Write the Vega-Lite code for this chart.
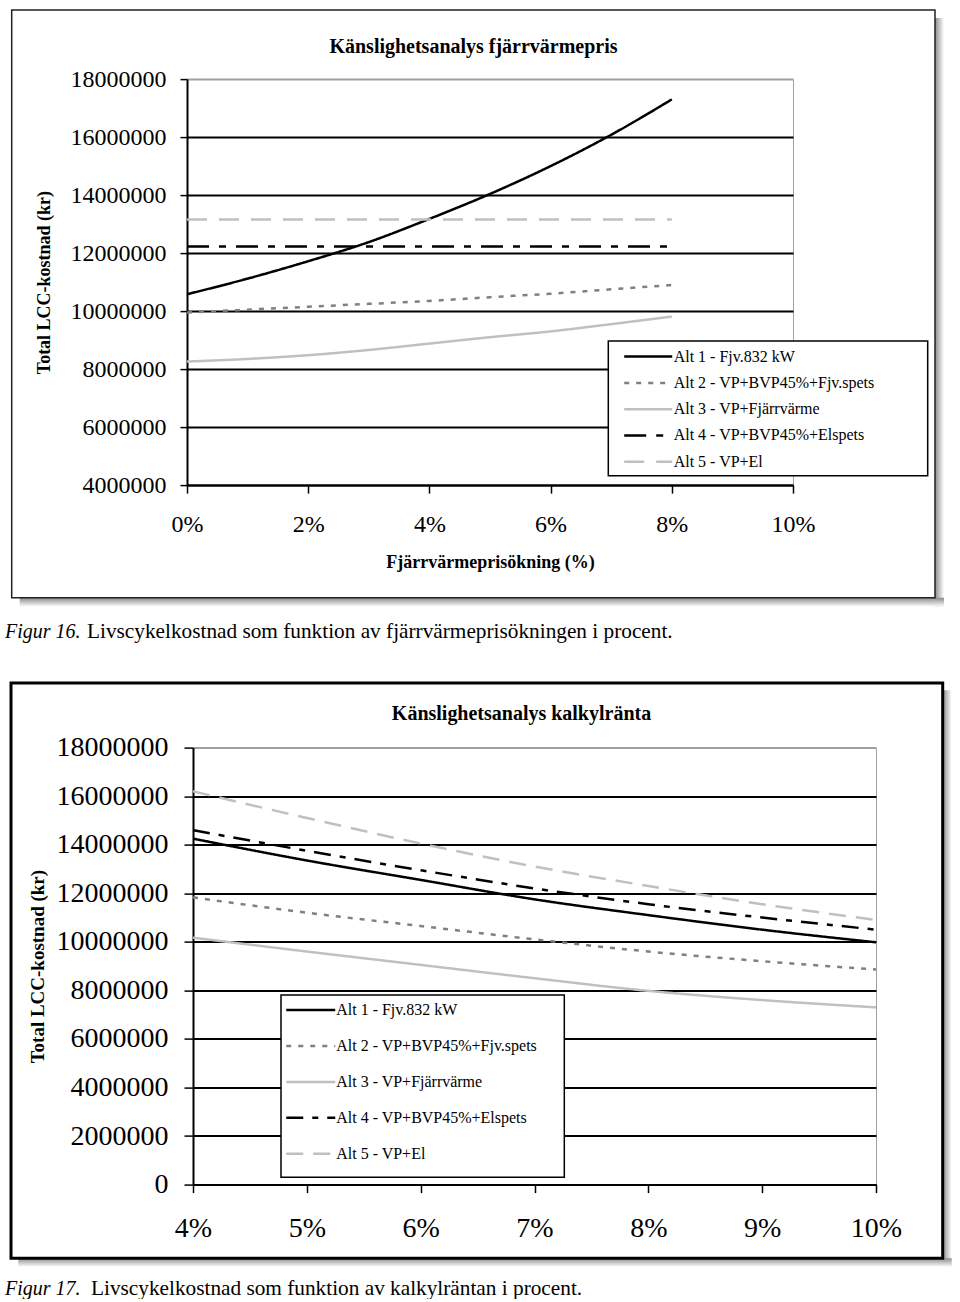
{
  "$schema": "https://vega.github.io/schema/vega-lite/v6.json",
  "background": "white",
  "padding": {"left": 4, "top": 9.1, "right": 0, "bottom": 0},
  "config": {
    "font": "Liberation Serif",
    "view": {"stroke": null}
  },
  "vconcat": [
    {
      "width": 606,
      "height": 406,
      "layer": [
        {
          "data": {"values": [{}]},
          "mark": {"type": "rect", "fill": {"gradient": "linear", "x1": 0, "y1": 0, "x2": 1, "y2": 0, "stops": [{"offset": 0, "color": "#8c8c8c"}, {"offset": 1, "color": "#ffffff"}]}},
          "encoding": {"x": {"datum": 0.123432}, "x2": {"datum": 0.124917}, "y": {"datum": 20103400}, "y2": {"datum": -196600}}
        },
        {
          "data": {"values": [{}]},
          "mark": {"type": "rect", "fill": {"gradient": "linear", "x1": 0, "y1": 0, "x2": 0, "y2": 1, "stops": [{"offset": 0, "color": "#8c8c8c"}, {"offset": 1, "color": "#ffffff"}]}},
          "encoding": {"x": {"datum": -0.027607}, "x2": {"datum": 0.124917}, "y": {"datum": 113800}, "y2": {"datum": -196600}}
        },
        {
          "data": {"values": [{}]},
          "mark": {"type": "rect", "fill": null, "fillOpacity": 0, "stroke": "#222222", "strokeWidth": 1.5},
          "encoding": {"x": {"datum": -0.028927}, "x2": {"datum": 0.123432}, "y": {"datum": 20379300}, "y2": {"datum": 113800}}
        },
        {
          "data": {"values": [{}]},
          "mark": {"type": "rect", "fill": "white", "stroke": "black", "strokeWidth": 1.5},
          "encoding": {"x": {"datum": 0.069521}, "x2": {"datum": 0.122228}, "y": {"datum": 8965500}, "y2": {"datum": 4320700}}
        },
        {
          "data": {
            "values": [
              {"x": 0, "serie": "Alt 1 - Fjv.832 kW", "y": 10580000},
              {"x": 0.01, "serie": "Alt 1 - Fjv.832 kW", "y": 11120000},
              {"x": 0.02, "serie": "Alt 1 - Fjv.832 kW", "y": 11720000},
              {"x": 0.03, "serie": "Alt 1 - Fjv.832 kW", "y": 12380000},
              {"x": 0.04, "serie": "Alt 1 - Fjv.832 kW", "y": 13180000},
              {"x": 0.05, "serie": "Alt 1 - Fjv.832 kW", "y": 14040000},
              {"x": 0.06, "serie": "Alt 1 - Fjv.832 kW", "y": 15000000},
              {"x": 0.07, "serie": "Alt 1 - Fjv.832 kW", "y": 16080000},
              {"x": 0.08, "serie": "Alt 1 - Fjv.832 kW", "y": 17300000},
              {"x": 0, "serie": "Alt 2 - VP+BVP45%+Fjv.spets", "y": 9950000},
              {"x": 0.01, "serie": "Alt 2 - VP+BVP45%+Fjv.spets", "y": 10050000},
              {"x": 0.02, "serie": "Alt 2 - VP+BVP45%+Fjv.spets", "y": 10150000},
              {"x": 0.03, "serie": "Alt 2 - VP+BVP45%+Fjv.spets", "y": 10250000},
              {"x": 0.04, "serie": "Alt 2 - VP+BVP45%+Fjv.spets", "y": 10350000},
              {"x": 0.05, "serie": "Alt 2 - VP+BVP45%+Fjv.spets", "y": 10480000},
              {"x": 0.06, "serie": "Alt 2 - VP+BVP45%+Fjv.spets", "y": 10600000},
              {"x": 0.07, "serie": "Alt 2 - VP+BVP45%+Fjv.spets", "y": 10750000},
              {"x": 0.08, "serie": "Alt 2 - VP+BVP45%+Fjv.spets", "y": 10900000},
              {"x": 0, "serie": "Alt 3 - VP+Fjärrvärme", "y": 8260000},
              {"x": 0.01, "serie": "Alt 3 - VP+Fjärrvärme", "y": 8350000},
              {"x": 0.02, "serie": "Alt 3 - VP+Fjärrvärme", "y": 8480000},
              {"x": 0.03, "serie": "Alt 3 - VP+Fjärrvärme", "y": 8660000},
              {"x": 0.04, "serie": "Alt 3 - VP+Fjärrvärme", "y": 8880000},
              {"x": 0.05, "serie": "Alt 3 - VP+Fjärrvärme", "y": 9100000},
              {"x": 0.06, "serie": "Alt 3 - VP+Fjärrvärme", "y": 9300000},
              {"x": 0.07, "serie": "Alt 3 - VP+Fjärrvärme", "y": 9550000},
              {"x": 0.08, "serie": "Alt 3 - VP+Fjärrvärme", "y": 9810000},
              {"x": 0, "serie": "Alt 4 - VP+BVP45%+Elspets", "y": 12230000},
              {"x": 0.01, "serie": "Alt 4 - VP+BVP45%+Elspets", "y": 12230000},
              {"x": 0.02, "serie": "Alt 4 - VP+BVP45%+Elspets", "y": 12230000},
              {"x": 0.03, "serie": "Alt 4 - VP+BVP45%+Elspets", "y": 12230000},
              {"x": 0.04, "serie": "Alt 4 - VP+BVP45%+Elspets", "y": 12230000},
              {"x": 0.05, "serie": "Alt 4 - VP+BVP45%+Elspets", "y": 12230000},
              {"x": 0.06, "serie": "Alt 4 - VP+BVP45%+Elspets", "y": 12230000},
              {"x": 0.07, "serie": "Alt 4 - VP+BVP45%+Elspets", "y": 12230000},
              {"x": 0.08, "serie": "Alt 4 - VP+BVP45%+Elspets", "y": 12230000},
              {"x": 0, "serie": "Alt 5 - VP+El", "y": 13160000},
              {"x": 0.01, "serie": "Alt 5 - VP+El", "y": 13160000},
              {"x": 0.02, "serie": "Alt 5 - VP+El", "y": 13160000},
              {"x": 0.03, "serie": "Alt 5 - VP+El", "y": 13160000},
              {"x": 0.04, "serie": "Alt 5 - VP+El", "y": 13160000},
              {"x": 0.05, "serie": "Alt 5 - VP+El", "y": 13160000},
              {"x": 0.06, "serie": "Alt 5 - VP+El", "y": 13160000},
              {"x": 0.07, "serie": "Alt 5 - VP+El", "y": 13160000},
              {"x": 0.08, "serie": "Alt 5 - VP+El", "y": 13160000}
            ]
          },
          "mark": {"type": "line", "strokeWidth": 2.5, "interpolate": "monotone"},
          "encoding": {
            "x": {
              "field": "x", "type": "quantitative",
              "scale": {"domain": [0, 0.1], "nice": false, "zero": false},
              "axis": {
                "values": [0, 0.02, 0.04, 0.06, 0.08, 0.1], "format": ".0%",
                "title": "Fjärrvärmeprisökning (%)", "titleFont": "Liberation Serif", "titleFontSize": 18, "titleFontWeight": "bold", "titleColor": "black", "titleBaseline": "alphabetic", "titleY": 82,
                "labelFont": "Liberation Serif", "labelFontSize": 24, "labelColor": "black", "labelBaseline": "alphabetic", "labelPadding": 38, "labelFlush": false, "labelOverlap": false,
                "tickSize": 8, "tickColor": "black", "tickWidth": 1.5, "domainColor": "black", "domainWidth": 2,
                "grid": true, "gridWidth": 1, "gridColor": {"condition": {"test": "datum.value >= 0.099", "value": "#a0a0a0"}, "value": "transparent"}
              }
            },
            "y": {
              "field": "y", "type": "quantitative",
              "scale": {"domain": [4000000, 18000000], "nice": false, "zero": false},
              "axis": {
                "values": [4000000, 6000000, 8000000, 10000000, 12000000, 14000000, 16000000, 18000000], "format": "d",
                "title": "Total LCC-kostnad (kr)", "titleFont": "Liberation Serif", "titleFontSize": 18, "titleFontWeight": "bold", "titleColor": "black", "titleBaseline": "middle", "titleX": -143,
                "labelFont": "Liberation Serif", "labelFontSize": 24, "labelColor": "black", "labelPadding": 14, "labelFlush": false, "labelOverlap": false,
                "tickSize": 7, "tickColor": "black", "tickWidth": 1.5, "domainColor": "black", "domainWidth": 2,
                "grid": true, "gridWidth": 2, "gridColor": {"condition": {"test": "datum.value === 18000000", "value": "#a0a0a0"}, "value": "black"}
              }
            },
            "color": {
              "field": "serie", "type": "nominal",
              "scale": {"domain": ["Alt 1 - Fjv.832 kW", "Alt 2 - VP+BVP45%+Fjv.spets", "Alt 3 - VP+Fjärrvärme", "Alt 4 - VP+BVP45%+Elspets", "Alt 5 - VP+El"], "range": ["#000000", "#808080", "#c0c0c0", "#000000", "#c0c0c0"]},
              "legend": {"orient": "none", "legendX": 435.7, "legendY": 264, "title": null, "labelFont": "Liberation Serif", "labelFontSize": 16, "labelColor": "black", "labelLimit": 400, "symbolType": "M-2,0H2", "symbolSize": 576, "symbolStrokeWidth": 2.5, "symbolFillColor": "transparent", "rowPadding": 4.3, "padding": 0, "symbolOffset": 12, "labelOffset": 12}
            },
            "strokeDash": {
              "field": "serie", "type": "nominal",
              "scale": {"domain": ["Alt 1 - Fjv.832 kW", "Alt 2 - VP+BVP45%+Fjv.spets", "Alt 3 - VP+Fjärrvärme", "Alt 4 - VP+BVP45%+Elspets", "Alt 5 - VP+El"], "range": [[1, 0], [5, 7], [1, 0], [22, 10, 7, 10], [20, 12]]},
              "legend": {"orient": "none", "legendX": 435.7, "legendY": 264, "title": null, "labelFont": "Liberation Serif", "labelFontSize": 16, "labelColor": "black", "labelLimit": 400, "symbolType": "M-2,0H2", "symbolSize": 576, "symbolStrokeWidth": 2.5, "symbolFillColor": "transparent", "rowPadding": 4.3, "padding": 0, "symbolOffset": 12, "labelOffset": 12}
            }
          }
        },
        {
          "data": {"values": [{}]},
          "mark": {"type": "text", "text": "Känslighetsanalys fjärrvärmepris", "font": "Liberation Serif", "fontSize": 20, "fontWeight": "bold", "align": "center", "baseline": "alphabetic", "color": "black"},
          "encoding": {"x": {"datum": 0.047277}, "y": {"datum": 18886000}}
        },
        {
          "data": {"values": [{}]},
          "mark": {"type": "text", "text": "Figur 16.", "font": "Liberation Serif", "fontSize": 20, "fontStyle": "italic", "align": "left", "baseline": "alphabetic", "color": "black"},
          "encoding": {"x": {"datum": -0.030033}, "y": {"datum": -1286000}}
        },
        {
          "data": {"values": [{}]},
          "mark": {"type": "text", "text": "Livscykelkostnad som funktion av fjärrvärmeprisökningen i procent.", "font": "Liberation Serif", "fontSize": 21.3, "align": "left", "baseline": "alphabetic", "color": "black"},
          "encoding": {"x": {"datum": -0.016502}, "y": {"datum": -1286000}}
        }
      ]
    },
    {
      "width": 689,
      "height": 437,
      "layer": [
        {
          "data": {"values": [{}]},
          "mark": {"type": "rect", "fill": {"gradient": "linear", "x1": 0, "y1": 0, "x2": 1, "y2": 0, "stops": [{"offset": 0, "color": "#8c8c8c"}, {"offset": 1, "color": "#ffffff"}]}},
          "encoding": {"x": {"datum": 0.10586}, "x2": {"datum": 0.10665}, "y": {"datum": 20360000}, "y2": {"datum": -3390000}}
        },
        {
          "data": {"values": [{}]},
          "mark": {"type": "rect", "fill": {"gradient": "linear", "x1": 0, "y1": 0, "x2": 0, "y2": 1, "stops": [{"offset": 0, "color": "#8c8c8c"}, {"offset": 1, "color": "#ffffff"}]}},
          "encoding": {"x": {"datum": 0.024653}, "x2": {"datum": 0.10665}, "y": {"datum": -3036000}, "y2": {"datum": -3390000}}
        },
        {
          "data": {"values": [{}]},
          "mark": {"type": "rect", "fill": null, "fillOpacity": 0, "stroke": "black", "strokeWidth": 3},
          "encoding": {"x": {"datum": 0.024012}, "x2": {"datum": 0.10586}, "y": {"datum": 20665000}, "y2": {"datum": -3036000}}
        },
        {
          "data": {"values": [{}]},
          "mark": {"type": "rect", "fill": "white", "stroke": "black", "strokeWidth": 1.5},
          "encoding": {"x": {"datum": 0.047731}, "x2": {"datum": 0.072618}, "y": {"datum": 7813700}, "y2": {"datum": 300700}}
        },
        {
          "data": {
            "values": [
              {"x": 0.04, "serie": "Alt 1 - Fjv.832 kW", "y": 14250000},
              {"x": 0.05, "serie": "Alt 1 - Fjv.832 kW", "y": 13350000},
              {"x": 0.06, "serie": "Alt 1 - Fjv.832 kW", "y": 12550000},
              {"x": 0.07, "serie": "Alt 1 - Fjv.832 kW", "y": 11750000},
              {"x": 0.08, "serie": "Alt 1 - Fjv.832 kW", "y": 11100000},
              {"x": 0.09, "serie": "Alt 1 - Fjv.832 kW", "y": 10500000},
              {"x": 0.1, "serie": "Alt 1 - Fjv.832 kW", "y": 9980000},
              {"x": 0.04, "serie": "Alt 2 - VP+BVP45%+Fjv.spets", "y": 11830000},
              {"x": 0.05, "serie": "Alt 2 - VP+BVP45%+Fjv.spets", "y": 11200000},
              {"x": 0.06, "serie": "Alt 2 - VP+BVP45%+Fjv.spets", "y": 10650000},
              {"x": 0.07, "serie": "Alt 2 - VP+BVP45%+Fjv.spets", "y": 10100000},
              {"x": 0.08, "serie": "Alt 2 - VP+BVP45%+Fjv.spets", "y": 9600000},
              {"x": 0.09, "serie": "Alt 2 - VP+BVP45%+Fjv.spets", "y": 9200000},
              {"x": 0.1, "serie": "Alt 2 - VP+BVP45%+Fjv.spets", "y": 8860000},
              {"x": 0.04, "serie": "Alt 3 - VP+Fjärrvärme", "y": 10170000},
              {"x": 0.05, "serie": "Alt 3 - VP+Fjärrvärme", "y": 9600000},
              {"x": 0.06, "serie": "Alt 3 - VP+Fjärrvärme", "y": 9050000},
              {"x": 0.07, "serie": "Alt 3 - VP+Fjärrvärme", "y": 8500000},
              {"x": 0.08, "serie": "Alt 3 - VP+Fjärrvärme", "y": 7980000},
              {"x": 0.09, "serie": "Alt 3 - VP+Fjärrvärme", "y": 7600000},
              {"x": 0.1, "serie": "Alt 3 - VP+Fjärrvärme", "y": 7300000},
              {"x": 0.04, "serie": "Alt 4 - VP+BVP45%+Elspets", "y": 14600000},
              {"x": 0.05, "serie": "Alt 4 - VP+BVP45%+Elspets", "y": 13750000},
              {"x": 0.06, "serie": "Alt 4 - VP+BVP45%+Elspets", "y": 12950000},
              {"x": 0.07, "serie": "Alt 4 - VP+BVP45%+Elspets", "y": 12200000},
              {"x": 0.08, "serie": "Alt 4 - VP+BVP45%+Elspets", "y": 11550000},
              {"x": 0.09, "serie": "Alt 4 - VP+BVP45%+Elspets", "y": 11000000},
              {"x": 0.1, "serie": "Alt 4 - VP+BVP45%+Elspets", "y": 10500000},
              {"x": 0.04, "serie": "Alt 5 - VP+El", "y": 16200000},
              {"x": 0.05, "serie": "Alt 5 - VP+El", "y": 15100000},
              {"x": 0.06, "serie": "Alt 5 - VP+El", "y": 14050000},
              {"x": 0.07, "serie": "Alt 5 - VP+El", "y": 13100000},
              {"x": 0.08, "serie": "Alt 5 - VP+El", "y": 12300000},
              {"x": 0.09, "serie": "Alt 5 - VP+El", "y": 11550000},
              {"x": 0.1, "serie": "Alt 5 - VP+El", "y": 10900000}
            ]
          },
          "mark": {"type": "line", "strokeWidth": 2.5, "interpolate": "monotone"},
          "encoding": {
            "x": {
              "field": "x", "type": "quantitative",
              "scale": {"domain": [0.04, 0.1], "range": [6, 689], "nice": false, "zero": false},
              "axis": {
                "values": [0.04, 0.05, 0.06, 0.07, 0.08, 0.09, 0.1], "format": ".0%", "title": null,
                "labelFont": "Liberation Serif", "labelFontSize": 28, "labelColor": "black", "labelBaseline": "alphabetic", "labelPadding": 43.5, "labelFlush": false, "labelOverlap": false,
                "tickSize": 8, "tickColor": "black", "tickWidth": 1.5, "domainColor": "black", "domainWidth": 2,
                "grid": true, "gridWidth": 1, "gridColor": {"condition": {"test": "datum.value >= 0.099", "value": "#a0a0a0"}, "value": "transparent"}
              }
            },
            "y": {
              "field": "y", "type": "quantitative",
              "scale": {"domain": [0, 18000000], "nice": false, "zero": false},
              "axis": {
                "offset": -6,
                "values": [0, 2000000, 4000000, 6000000, 8000000, 10000000, 12000000, 14000000, 16000000, 18000000], "format": "d",
                "title": "Total LCC-kostnad (kr)", "titleFont": "Liberation Serif", "titleFontSize": 19, "titleFontWeight": "bold", "titleColor": "black", "titleBaseline": "middle", "titleX": -156,
                "labelFont": "Liberation Serif", "labelFontSize": 28, "labelColor": "black", "labelPadding": 16, "labelFlush": false, "labelOverlap": false,
                "tickSize": 9, "tickColor": "black", "tickWidth": 1.5, "domainColor": "black", "domainWidth": 2,
                "grid": true, "gridWidth": 2, "gridColor": {"condition": {"test": "datum.value === 18000000", "value": "#a0a0a0"}, "value": "black"}
              }
            },
            "color": {
              "field": "serie", "type": "nominal",
              "scale": {"domain": ["Alt 1 - Fjv.832 kW", "Alt 2 - VP+BVP45%+Fjv.spets", "Alt 3 - VP+Fjärrvärme", "Alt 4 - VP+BVP45%+Elspets", "Alt 5 - VP+El"], "range": ["#000000", "#808080", "#c0c0c0", "#000000", "#c0c0c0"]},
              "legend": {"orient": "none", "legendX": 98, "legendY": 249, "title": null, "labelFont": "Liberation Serif", "labelFontSize": 16, "labelColor": "black", "labelLimit": 400, "symbolType": "M-2,0H2", "symbolSize": 600, "symbolStrokeWidth": 2.5, "symbolFillColor": "transparent", "rowPadding": 13.9, "padding": 0, "symbolOffset": 12.25, "labelOffset": 12}
            },
            "strokeDash": {
              "field": "serie", "type": "nominal",
              "scale": {"domain": ["Alt 1 - Fjv.832 kW", "Alt 2 - VP+BVP45%+Fjv.spets", "Alt 3 - VP+Fjärrvärme", "Alt 4 - VP+BVP45%+Elspets", "Alt 5 - VP+El"], "range": [[1, 0], [5, 7], [1, 0], [17, 9, 6, 9], [17, 10]]},
              "legend": {"orient": "none", "legendX": 98, "legendY": 249, "title": null, "labelFont": "Liberation Serif", "labelFontSize": 16, "labelColor": "black", "labelLimit": 400, "symbolType": "M-2,0H2", "symbolSize": 600, "symbolStrokeWidth": 2.5, "symbolFillColor": "transparent", "rowPadding": 13.9, "padding": 0, "symbolOffset": 12.25, "labelOffset": 12}
            }
          }
        },
        {
          "data": {"values": [{}]},
          "mark": {"type": "text", "text": "Känslighetsanalys kalkylränta", "font": "Liberation Serif", "fontSize": 20, "fontWeight": "bold", "align": "center", "baseline": "alphabetic", "color": "black"},
          "encoding": {"x": {"datum": 0.068858}, "y": {"datum": 19153000}}
        },
        {
          "data": {"values": [{}]},
          "mark": {"type": "text", "text": "Figur 17.", "font": "Liberation Serif", "fontSize": 20, "fontStyle": "italic", "align": "left", "baseline": "alphabetic", "color": "black"},
          "encoding": {"x": {"datum": 0.023484}, "y": {"datum": -4531000}}
        },
        {
          "data": {"values": [{}]},
          "mark": {"type": "text", "text": "Livscykelkostnad som funktion av kalkylräntan i procent.", "font": "Liberation Serif", "fontSize": 21.3, "align": "left", "baseline": "alphabetic", "color": "black"},
          "encoding": {"x": {"datum": 0.03104}, "y": {"datum": -4531000}}
        }
      ]
    }
  ],
  "bounds": "full",
  "spacing": 37.5,
  "resolve": {
    "scale": {"x": "independent", "y": "independent", "color": "independent", "strokeDash": "independent"},
    "legend": {"color": "independent", "strokeDash": "independent"}
  }
}
